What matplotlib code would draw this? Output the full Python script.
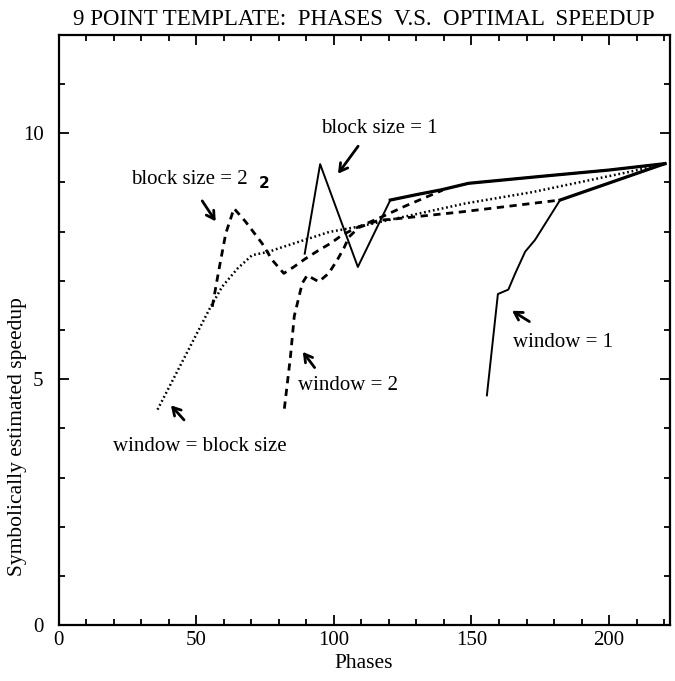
import matplotlib
matplotlib.use("Agg")
import matplotlib.pyplot as plt
from matplotlib.ticker import MultipleLocator

plt.rcParams['font.family'] = ['Liberation Serif', 'DejaVu Serif']

# block size = 1 (solid)
bs1_x = [89.4, 95.0, 108.7, 120.5, 130, 139.2, 148.9, 175, 200, 220.3]
bs1_y = [7.55, 9.37, 7.28, 8.64, 8.75, 8.85, 8.98, 9.12, 9.25, 9.38]

# block size = 2 (dashed), runs into the block size = 1 line at the right
bs2_x = [55.8, 58.2, 60.7, 63.7, 67.9, 73.9, 77.6, 81.8, 85.4, 89.7, 94.5, 98.8, 103, 108, 117.5, 126, 134.4, 139.5]
bs2_y = [6.47, 7.22, 7.96, 8.47, 8.2, 7.76, 7.42, 7.15, 7.28, 7.45, 7.62, 7.76, 7.93, 8.07, 8.30, 8.52, 8.72, 8.84]

# window = 1 (solid)
w1_x = [155.6, 159.6, 163.4, 165.9, 169.5, 173.1, 182.2, 220.3]
w1_y = [4.67, 6.73, 6.82, 7.15, 7.59, 7.83, 8.64, 9.38]

# window = 2 (dashed), runs into the window = 1 line at the right
w2_x = [82, 84.2, 85.6, 88.5, 90.3, 94.5, 98.1, 101.2, 103.6, 105.5, 109, 116.3, 121.1, 146.5, 182.2]
w2_y = [4.4, 5.45, 6.28, 6.95, 7.11, 6.98, 7.15, 7.42, 7.66, 7.89, 8.08, 8.23, 8.25, 8.40, 8.64]

# window = block size (dotted)
wb_x = [35.9, 55.2, 59.4, 65, 70.3, 76.4, 80, 98.2, 109, 147.7, 172, 208, 220.3]
wb_y = [4.38, 6.47, 6.88, 7.25, 7.52, 7.59, 7.66, 7.99, 8.1, 8.57, 8.8, 9.22, 9.38]

fig = plt.figure(figsize=(6.75, 6.81), dpi=100)
ax = fig.add_axes([0.087, 0.082, 0.905, 0.867])

ax.plot(bs1_x, bs1_y, color="black", lw=1.4)
ax.plot(bs1_x[3:], bs1_y[3:], color="black", lw=2.3)   # shared part looks heavier
ax.plot(w1_x, w1_y, color="black", lw=1.4)
ax.plot(w1_x[6:], w1_y[6:], color="black", lw=2.3)
ax.plot(bs2_x, bs2_y, color="black", lw=2.0, linestyle=(0, (2.6, 2.0)))
ax.plot(w2_x, w2_y, color="black", lw=2.0, linestyle=(0, (2.6, 2.0)))
ax.plot(wb_x, wb_y, color="black", lw=1.8, linestyle=(0, (0.7, 1.1)))

ax.set_xlim(0, 222)
ax.set_ylim(0, 12)
ax.xaxis.set_major_locator(MultipleLocator(50))
ax.xaxis.set_minor_locator(MultipleLocator(10))
ax.yaxis.set_major_locator(MultipleLocator(5))
ax.yaxis.set_minor_locator(MultipleLocator(1))
ax.tick_params(which="both", direction="in", top=True, right=True, width=1.3, labelsize=15)
ax.tick_params(which="major", length=7)
ax.tick_params(which="minor", length=4.5)
ax.tick_params(axis="y", pad=11)
ax.tick_params(axis="x", pad=4)
for s in ax.spines.values():
    s.set_linewidth(1.6)

ax.set_title("9 POINT TEMPLATE:  PHASES  V.S.  OPTIMAL  SPEEDUP", fontsize=16.5, pad=7)
ax.set_xlabel("Phases", fontsize=15.5, labelpad=3)
ax.set_ylabel("Symbolically estimated speedup", fontsize=15.5)
ax.yaxis.set_label_coords(-0.052, 0.32)

arrow = dict(arrowstyle="->,head_length=0.55,head_width=0.32", lw=2.0, color="black")
ax.text(116.6, 10.1, "block size = 1", fontsize=15, ha="center", va="center")
ax.annotate("", xy=(100.9, 9.13), xytext=(109.4, 9.78), arrowprops=arrow)
ax.text(47.4, 9.06, "block size = 2", fontsize=15, ha="center", va="center")
ax.text(74.6, 8.98, "2", fontsize=11, fontweight="bold", family="DejaVu Sans", ha="center", va="center")
ax.annotate("", xy=(57.6, 8.16), xytext=(51.6, 8.67), arrowprops=arrow)
ax.text(105.2, 4.88, "window = 2", fontsize=15, ha="center", va="center")
ax.annotate("", xy=(88.1, 5.6), xytext=(93.6, 5.19), arrowprops=arrow)
ax.text(183.2, 5.75, "window = 1", fontsize=15, ha="center", va="center")
ax.annotate("", xy=(163.9, 6.42), xytext=(171.9, 6.14), arrowprops=arrow)
ax.text(51.3, 3.64, "window = block size", fontsize=15, ha="center", va="center")
ax.annotate("", xy=(40.1, 4.51), xytext=(46.2, 4.13), arrowprops=arrow)

fig.savefig("out.png", dpi=100)
